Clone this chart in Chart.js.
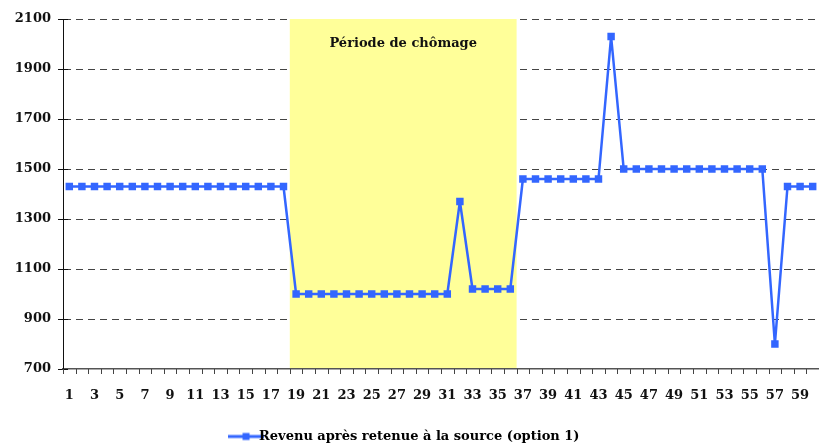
<!DOCTYPE html>
<html>
<head>
<meta charset="utf-8">
<script src="https://cdn.jsdelivr.net/npm/chart.js@4"></script>
<style>
  html, body { margin: 0; padding: 0; background: #fff; }
  #wrap { width: 819px; height: 445px; position: relative; }
</style>
</head>
<body>
<div id="wrap"><canvas id="revenuChart"></canvas></div>
<script>
// DATA
const months = Array.from({ length: 60 }, (_, i) => String(i + 1));
const revenu = [
  1430,1430,1430,1430,1430,1430,1430,1430,1430,1430,
  1430,1430,1430,1430,1430,1430,1430,1430,1000,1000,
  1000,1000,1000,1000,1000,1000,1000,1000,1000,1000,
  1000,1370,1020,1020,1020,1020,1460,1460,1460,1460,
  1460,1460,1460,2030,1500,1500,1500,1500,1500,1500,
  1500,1500,1500,1500,1500,1500,800,1430,1430,1430
];
const yTicks = [700, 900, 1100, 1300, 1500, 1700, 1900, 2100];
const chomage = { from: 19, to: 36, label: 'Période de chômage' };

const BLUE = '#3366FF';
const FONT = 'DejaVu Serif';

// legend swatch: line with square marker
const swatch = document.createElement('canvas');
swatch.width = 36; swatch.height = 10;
const sc = swatch.getContext('2d');
sc.strokeStyle = BLUE; sc.lineWidth = 3;
sc.beginPath(); sc.moveTo(0, 5); sc.lineTo(36, 5); sc.stroke();
sc.fillStyle = BLUE; sc.fillRect(14.5, 1.5, 7, 7);

// yellow unemployment band, crossing y ticks, x ticks between categories
const bandPlugin = {
  id: 'band',
  beforeDatasetsDraw(chart) {
    const { ctx, chartArea, scales: { x, y } } = chart;
    const step = x.getPixelForValue(1) - x.getPixelForValue(0);
    const left = x.getPixelForValue(chomage.from - 1) - step / 2;
    const right = x.getPixelForValue(chomage.to - 1) + step / 2;
    ctx.save();
    ctx.fillStyle = '#FFFF99';
    ctx.fillRect(left, chartArea.top, right - left, chartArea.bottom - chartArea.top - 1);
    ctx.fillStyle = '#111';
    ctx.font = 'bold 13px "' + FONT + '"';
    ctx.textAlign = 'center';
    ctx.textBaseline = 'middle';
    ctx.fillText(chomage.label, (left + right) / 2, chartArea.top + 25);
    ctx.strokeStyle = '#111';
    ctx.lineWidth = 1;
    yTicks.forEach(v => {
      const py = Math.round(y.getPixelForValue(v)) + 0.5;
      ctx.beginPath(); ctx.moveTo(chartArea.left, py); ctx.lineTo(chartArea.left + 5, py); ctx.stroke();
    });
    ctx.strokeStyle = '#444';
    for (let i = 0; i <= months.length; i++) {
      const px = Math.round(x.getPixelForValue(0) + (i - 0.5) * step) + 0.5;
      ctx.beginPath(); ctx.moveTo(px, chartArea.bottom); ctx.lineTo(px, chartArea.bottom + 5); ctx.stroke();
    }
    ctx.restore();
  }
};

new Chart(document.getElementById('revenuChart'), {
  type: 'line',
  data: {
    labels: months,
    datasets: [{
      label: 'Revenu après retenue à la source (option 1)',
      data: revenu,
      borderColor: BLUE,
      backgroundColor: BLUE,
      borderWidth: 2.5,
      borderJoinStyle: 'round',
      pointStyle: 'rect',
      pointRadius: 3.5,
      pointHoverRadius: 3.5,
      tension: 0
    }]
  },
  plugins: [bandPlugin],
  options: {
    responsive: true,
    maintainAspectRatio: false,
    animation: false,
    events: [],
    layout: { autoPadding: false, padding: { top: 19, right: 0, left: 0, bottom: -8 } },
    plugins: {
      tooltip: { enabled: false },
      legend: {
        position: 'bottom',
        labels: {
          color: '#111',
          font: { family: FONT, size: 13, weight: 'bold' },
          padding: 4,
          usePointStyle: true,
          generateLabels: chart => [{
            text: chart.data.datasets[0].label,
            pointStyle: swatch,
            fillStyle: BLUE,
            strokeStyle: BLUE,
            lineWidth: 0,
            datasetIndex: 0
          }]
        }
      }
    },
    scales: {
      x: {
        offset: true,
        grid: {
          offset: true,
          drawOnChartArea: false,
          tickLength: 15,
          tickColor: 'rgba(0,0,0,0)'
        },
        border: { color: '#555', width: 1.5 },
        ticks: {
          autoSkip: false,
          maxRotation: 0,
          padding: 4,
          color: '#111',
          font: { family: FONT, size: 13, weight: 'bold' },
          callback: (v, i) => (i % 2 === 0 ? months[i] : '')
        },
        afterFit: s => { s.height = 57; }
      },
      y: {
        min: 700,
        max: 2100,
        afterBuildTicks: s => { s.ticks = yTicks.map(v => ({ value: v })); },
        grid: {
          color: c => (c.tick.value === 700 ? 'rgba(0,0,0,0)' : '#444'),
          tickColor: '#111',
          tickLength: 5,
          lineWidth: 1
        },
        border: { color: '#111', width: 1, dash: [7, 5] },
        ticks: {
          padding: 7,
          color: '#111',
          font: { family: FONT, size: 13, weight: 'bold' },
          callback: v => String(v)
        },
        afterFit: s => { s.width = 63; }
      }
    }
  }
});
</script>
</body>
</html>
